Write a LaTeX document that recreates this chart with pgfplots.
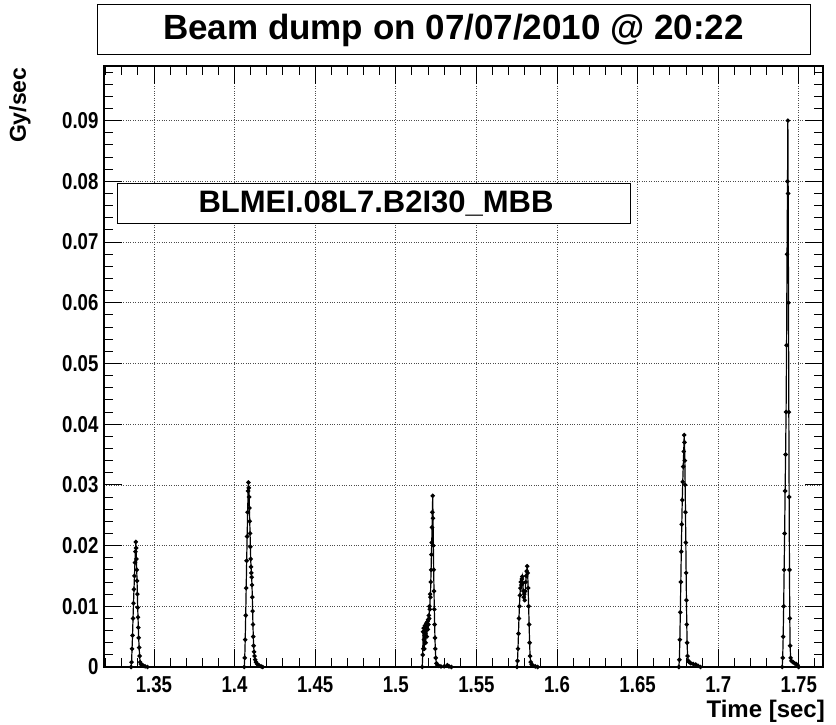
\documentclass[border=0pt]{standalone}
\usepackage{fontspec}
\setmainfont{Liberation Sans}
\newfontfamily\rootf{Liberation Sans}[FakeStretch=0.81]
\usepackage{pgfplots}
\pgfplotsset{compat=1.18}
\pgfplotsset{pk/.style={black, line width=1.2pt, mark=*, mark size=1.6pt, mark options={fill=black}}}
\begin{document}
\begin{tikzpicture}[x=1pt,y=1pt]
\path[use as bounding box] (0,0) rectangle (836,725);
\begin{axis}[at={(104pt,58pt)}, anchor=south west, scale only axis,
  width=719pt, height=601pt,
  xmin=1.319, xmax=1.765, ymin=0, ymax=0.099,
  xtick={1.35,1.4,1.45,1.5,1.55,1.6,1.65,1.7,1.75},
  ytick={0,0.01,0.02,0.03,0.04,0.05,0.06,0.07,0.08,0.09},
  minor xtick={1.32,1.33,1.34,1.36,1.37,1.38,1.39,1.41,1.42,1.43,1.44,1.46,1.47,1.48,1.49,1.51,1.52,1.53,1.54,1.56,1.57,1.58,1.59,1.61,1.62,1.63,1.64,1.66,1.67,1.68,1.69,1.71,1.72,1.73,1.74,1.76},
  minor ytick={0.002,0.004,0.006,0.008,0.012,0.014,0.016,0.018,0.022,0.024,0.026,0.028,0.032,0.034,0.036,0.038,0.042,0.044,0.046,0.048,0.052,0.054,0.056,0.058,0.062,0.064,0.066,0.068,0.072,0.074,0.076,0.078,0.082,0.084,0.086,0.088,0.092,0.094,0.096,0.098},
  major tick length=18pt, minor tick length=9pt,
  every tick/.style={black, line width=0.9pt},
  axis line style={line width=1.6pt},
  grid=major, major grid style={dotted, black!70, line width=0.7pt},
  scaled ticks=false,
  /pgf/number format/assume math mode=true,
  /pgf/number format/fixed, /pgf/number format/precision=2,
  tick label style={font=\rootf\bfseries\fontsize{23}{26}\selectfont},
  xticklabel style={inner sep=0pt, yshift=-9pt},
  yticklabel style={xshift=-2pt},
  clip=true,
]
% baseline
\addplot[black, line width=2.4pt, forget plot] coordinates {(1.3205,0) (1.7499,0)};
% peaks
\addplot[pk] coordinates {
(1.3358,0.0000) (1.3361,0.0008) (1.3364,0.0030) (1.3367,0.0052) (1.3370,0.0080) (1.3373,0.0105)
(1.3376,0.0128) (1.3379,0.0150) (1.3382,0.0172) (1.3385,0.0190) (1.3387,0.0206) (1.3389,0.0196)
(1.3391,0.0178) (1.3393,0.0160) (1.3395,0.0142) (1.3397,0.0120) (1.3399,0.0098) (1.3401,0.0082)
(1.3403,0.0065) (1.3405,0.0048) (1.3408,0.0032) (1.3411,0.0018) (1.3414,0.0008) (1.3418,0.0005)
(1.3422,0.0004) (1.3428,0.0003) (1.3435,0.0002) (1.3445,0.0001) (1.3460,0.0000)};
\addplot[pk] coordinates {
(1.4060,0.0000) (1.4063,0.0015) (1.4066,0.0045) (1.4069,0.0085) (1.4072,0.0130) (1.4075,0.0175)
(1.4078,0.0215) (1.4081,0.0255) (1.4084,0.0290) (1.4086,0.0304) (1.4088,0.0295) (1.4090,0.0280)
(1.4092,0.0262) (1.4094,0.0240) (1.4096,0.0220) (1.4098,0.0198) (1.4100,0.0178) (1.4102,0.0165)
(1.4104,0.0155) (1.4106,0.0148) (1.4108,0.0135) (1.4110,0.0115) (1.4112,0.0092) (1.4114,0.0070)
(1.4116,0.0050) (1.4118,0.0035) (1.4121,0.0025) (1.4124,0.0018) (1.4128,0.0012) (1.4133,0.0008)
(1.4140,0.0005) (1.4150,0.0003) (1.4165,0.0001) (1.4175,0.0000)};
\addplot[pk] coordinates {
(1.5164,0.0000) (1.5167,0.0020) (1.5169,0.0058) (1.5171,0.0030) (1.5173,0.0064) (1.5175,0.0045)
(1.5177,0.0030) (1.5179,0.0052) (1.5181,0.0068) (1.5183,0.0055) (1.5185,0.0040) (1.5187,0.0060)
(1.5189,0.0072) (1.5191,0.0065) (1.5193,0.0050) (1.5195,0.0068) (1.5197,0.0075) (1.5199,0.0062)
(1.5201,0.0078) (1.5203,0.0070) (1.5205,0.0085) (1.5207,0.0080) (1.5209,0.0100) (1.5211,0.0095)
(1.5213,0.0120) (1.5215,0.0115) (1.5217,0.0140) (1.5219,0.0160) (1.5221,0.0185) (1.5223,0.0205)
(1.5225,0.0230) (1.5227,0.0255) (1.5229,0.0282) (1.5231,0.0245) (1.5233,0.0200) (1.5235,0.0160)
(1.5237,0.0125) (1.5239,0.0095) (1.5241,0.0070) (1.5243,0.0048) (1.5245,0.0030) (1.5248,0.0015)
(1.5252,0.0006) (1.5258,0.0003) (1.5266,0.0002) (1.5280,0.0001) (1.5300,0.0001) (1.5320,0.0003)
(1.5330,0.0001) (1.5345,0.0000)};
\addplot[pk] coordinates {
(1.5752,0.0000) (1.5755,0.0010) (1.5758,0.0030) (1.5761,0.0055) (1.5764,0.0080) (1.5767,0.0100)
(1.5770,0.0118) (1.5773,0.0130) (1.5776,0.0140) (1.5779,0.0135) (1.5782,0.0145) (1.5785,0.0149)
(1.5788,0.0138) (1.5791,0.0125) (1.5794,0.0115) (1.5797,0.0120) (1.5800,0.0110) (1.5803,0.0125)
(1.5806,0.0140) (1.5809,0.0150) (1.5812,0.0158) (1.5815,0.0166) (1.5818,0.0155) (1.5821,0.0130)
(1.5824,0.0100) (1.5827,0.0070) (1.5830,0.0040) (1.5833,0.0018) (1.5837,0.0008) (1.5843,0.0004)
(1.5852,0.0002) (1.5865,0.0001) (1.5880,0.0000)};
\addplot[pk] coordinates {
(1.6756,0.0000) (1.6759,0.0012) (1.6762,0.0045) (1.6765,0.0090) (1.6768,0.0140) (1.6771,0.0190)
(1.6774,0.0235) (1.6777,0.0275) (1.6780,0.0305) (1.6783,0.0330) (1.6786,0.0355) (1.6789,0.0382)
(1.6791,0.0370) (1.6793,0.0340) (1.6795,0.0300) (1.6797,0.0255) (1.6799,0.0205) (1.6801,0.0155)
(1.6803,0.0110) (1.6805,0.0070) (1.6807,0.0040) (1.6810,0.0018) (1.6814,0.0010) (1.6820,0.0008)
(1.6830,0.0006) (1.6845,0.0005) (1.6860,0.0004) (1.6875,0.0002) (1.6890,0.0000)};
\addplot[pk] coordinates {
(1.7397,0.0000) (1.7400,0.0015) (1.7403,0.0050) (1.7406,0.0100) (1.7409,0.0160) (1.7412,0.0220)
(1.7415,0.0290) (1.7418,0.0350) (1.7421,0.0420) (1.7424,0.0530) (1.7427,0.0680) (1.7430,0.0800)
(1.7432,0.0900) (1.7434,0.0780) (1.7436,0.0600) (1.7438,0.0420) (1.7440,0.0280) (1.7442,0.0160)
(1.7444,0.0080) (1.7446,0.0035) (1.7449,0.0015) (1.7454,0.0010) (1.7464,0.0008) (1.7474,0.0006)
(1.7484,0.0005) (1.7492,0.0003) (1.7499,0.0000)};
\end{axis}
% title box
\draw[line width=1pt] (97,670) rectangle (810,720);
\node[font=\bfseries\fontsize{35}{40}\selectfont] at (453.5,695) {Beam dump on 07/07/2010 @ 20:22};
% label box
\draw[line width=1pt, fill=white] (117,501) rectangle (630,541);
\node[font=\bfseries\fontsize{31}{34}\selectfont] at (376,521) {BLMEI.08L7.B2I30\_MBB};
% axis titles
\node[font=\bfseries\fontsize{23}{26}\selectfont, rotate=90, anchor=east] at (20,661) {Gy/sec};
\node[font=\bfseries\fontsize{24}{28}\selectfont, anchor=base east, inner sep=0pt] at (825,7) {Time [sec]};
\end{tikzpicture}
\end{document}
